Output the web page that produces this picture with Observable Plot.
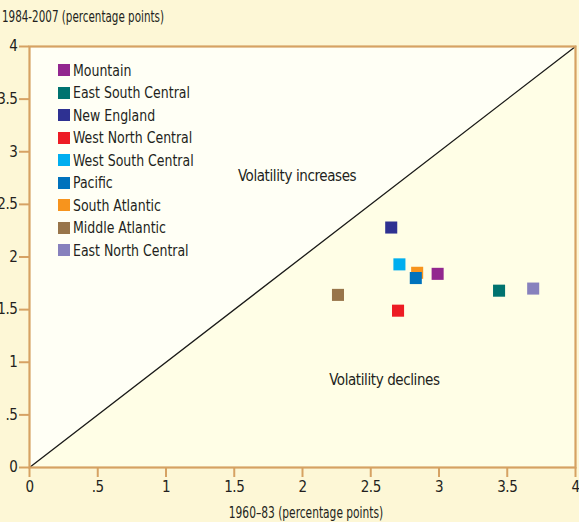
<!DOCTYPE html>
<html>
<head>
<meta charset="utf-8">
<script src="https://cdn.jsdelivr.net/npm/d3@7"></script>
<script src="https://cdn.jsdelivr.net/npm/@observablehq/plot@0.6"></script>
<style>
  html, body { margin: 0; padding: 0; background: #fdf7d6; }
  #wrap { position: relative; width: 579px; height: 522px; overflow: hidden;
          font-family: "DejaVu Sans Condensed", "Liberation Sans Narrow", sans-serif; color: #231f20; }
  #wrap svg { position: absolute; left: 0; top: 0; }
  .ttl { position: absolute; font-size: 16px; white-space: nowrap; }
  #legend { position: absolute; left: 58px; top: 59px; font-size: 16px; }
  .li { height: 22.5px; display: flex; align-items: center; }
  .sw { width: 12px; height: 12px; margin-right: 3px; flex: none; }
  .li span { display: inline-block; transform: scaleX(0.87); transform-origin: left center; white-space: nowrap; }
</style>
</head>
<body>
<div id="wrap">
  <div class="ttl" style="left:2px; top:7px; transform: scaleX(0.72); transform-origin: left top;">1984-2007 (percentage points)</div>
  <div class="ttl" style="left:306px; top:503px; transform: translateX(-50%) scaleX(0.74);">1960–83 (percentage points)</div>
  <div id="legend"></div>
</div>
<script>
const regions = ["Mountain", "East South Central", "New England", "West North Central", "West South Central", "Pacific", "South Atlantic", "Middle Atlantic", "East North Central"];
const colors  = ["#92278f", "#00736f", "#2e3192", "#ed1c24", "#00aeef", "#0072bc", "#f7941d", "#98754a", "#8781bd"];
const vol6083 = [2.99, 3.44, 2.65, 2.70, 2.71, 2.83, 2.84, 2.26, 3.69];
const vol8407 = [1.84, 1.68, 2.28, 1.49, 1.93, 1.80, 1.85, 1.64, 1.70];
const drawOrder = ["Middle Atlantic", "New England", "West North Central", "West South Central", "South Atlantic", "Pacific", "Mountain", "East South Central", "East North Central"];
const tickValues = [0, 0.5, 1, 1.5, 2, 2.5, 3, 3.5, 4];
const tickLabels = ["0", ".5", "1", "1.5", "2", "2.5", "3", "3.5", "4"];
const yTickLabels = ["0", ".5", "1", "1.5", "2", "2.5", "3", "3.5", "4"];
const diag = [0, 4];
const notes = [
  {text: "Volatility increases", x: 1.96, y: 2.77},
  {text: "Volatility declines", x: 2.60, y: 0.83}
];

const data = regions.map((r, i) => ({region: r, color: colors[i], x: vol6083[i], y: vol8407[i]}))
  .sort((a, b) => drawOrder.indexOf(a.region) - drawOrder.indexOf(b.region));

const axisColor = "#d6a263";
const font = '"DejaVu Sans Condensed", sans-serif';

const chart = Plot.plot({
  width: 579,
  height: 522,
  marginTop: 46,
  marginBottom: 55,
  marginLeft: 29,
  marginRight: 4,
  style: {background: "transparent", fontFamily: font, fontSize: "16px", color: "#231f20", overflow: "visible"},
  x: {domain: [0, 4], label: null},
  y: {domain: [0, 4], label: null},
  marks: [
    Plot.frame({fill: "#fffee6", stroke: null}),
    Plot.areaY(diag, {x: d => d, y1: d => d, y2: 4, fill: "#fffff5"}),
    Plot.line(diag, {x: d => d, y: d => d, stroke: "#1a1a1a", strokeWidth: 1.3}),
    Plot.axisX({ticks: tickValues, tickFormat: (d, i) => tickLabels[i], tickSize: 10, tickPadding: 4, stroke: axisColor, strokeWidth: 2, fill: "#231f20", fontSize: 15}),
    Plot.axisY({ticks: tickValues, tickFormat: (d, i) => yTickLabels[i], tickSize: 10, tickPadding: 2, stroke: axisColor, strokeWidth: 2, fill: "#231f20", fontSize: 15}),
    Plot.frame({stroke: axisColor, strokeWidth: 2.2}),
    Plot.text(notes, {x: "x", y: "y", text: "text", fontSize: 15, fill: "#231f20"}),
    Plot.dot(data, {x: "x", y: "y", fill: "color", symbol: "square", r: 6.8, stroke: null})
  ]
});
d3.select(chart).selectAll("text").style("letter-spacing", "-0.4px");
document.getElementById("wrap").prepend(chart);

const legend = document.getElementById("legend");
regions.forEach((r, i) => {
  const row = document.createElement("div");
  row.className = "li";
  row.innerHTML = `<div class="sw" style="background:${colors[i]}"></div><span>${r}</span>`;
  legend.appendChild(row);
});
</script>
</body>
</html>
